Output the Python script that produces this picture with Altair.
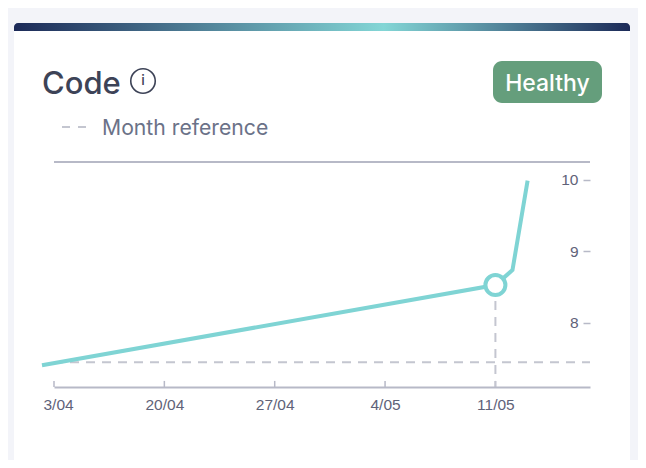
import altair as alt
import pandas as pd

# Chart values
line_dates = ["2023-04-12T05:42:00", "2023-05-11T00:00:00", "2023-05-12T02:00:00", "2023-05-13T01:00:00"]
line_values = [7.41, 8.53, 8.74, 9.99]
focus_date = ["2023-05-11T00:00:00"]
focus_value = [8.53]
month_reference = 7.45
y_ticks = [8, 9, 10]
x_tick_days = [(4, 13), (4, 20), (4, 27), (5, 4), (5, 11)]
title_text = "Code"
legend_text = "Month reference"
badge_text = "Healthy"

PAGE = "#f3f4f9"
TEAL = "#7fd4d4"
AXIS = "#b7b9c7"
DASH = "#c4c6d0"
LABEL = "#5f6379"
W, H = 536, 225
X0, Y0 = 54, 162  # page position of the plot's corner


def px(v):
    return alt.value(v - X0)


def py(v):
    return alt.value(v - Y0)


line_df = pd.DataFrame({"date": line_dates, "value": line_values})
focus_df = pd.DataFrame({"date": focus_date, "value": focus_value})
tick_df = pd.DataFrame({"date": [f"2023-{m:02d}-{d:02d}T00:00:00" for m, d in x_tick_days]})
one = pd.DataFrame({"k": [0]})

x_scale = alt.Scale(domain=[alt.DateTime(year=2023, month=4, date=13),
                            alt.DateTime(year=2023, month=5, date=17)], nice=False)
y_scale = alt.Scale(domain=[7.105, 10.25], nice=False, zero=False)
y_bottom, y_top = 7.105, 10.25

x_axis = alt.Axis(
    values=[alt.DateTime(year=2023, month=m, date=d) for m, d in x_tick_days],
    title=None, grid=False, ticks=False, domain=True, domainColor=AXIS, domainWidth=2,
    labelFont="Liberation Sans", labelFontSize=15.5, labelColor=LABEL, labelPadding=10,
    labelExpr="datum.index == 0 ? '3/04' : timeFormat(datum.value, '%-d/%m')",
    labelFlush=True, labelFlushOffset=11, labelOverlap=False, zindex=1,
)
y_axis = alt.Axis(
    orient="left", offset=-W, values=y_ticks, format="d", title=None, grid=False, domain=False,
    tickSize=7, tickColor=AXIS, tickWidth=1.5, labelPadding=5,
    labelFont="Liberation Sans", labelFontSize=15.5, labelColor=LABEL, zindex=1,
)

base = alt.Chart(one)

card = base.mark_rect(fill="white", cornerRadius=10).encode(
    x=px(14), x2=px(630), y=py(23), y2=py(520))
strip = base.mark_rect(
    cornerRadiusTopLeft=10, cornerRadiusTopRight=10,
    color=alt.Gradient(gradient="linear", x1=0, x2=1, y1=0, y2=0, stops=[
        alt.GradientStop(offset=0, color="#1c2a58"),
        alt.GradientStop(offset=0.6, color="#83d6d6"),
        alt.GradientStop(offset=1, color="#1c2a58"),
    ]),
).encode(x=px(14), x2=px(630), y=py(23), y2=py(31))

title = base.mark_text(align="left", baseline="alphabetic", font="Inter", fontSize=31,
                       fontWeight=500, color="#3d4357").encode(
    x=px(42), y=py(94), text=alt.value(title_text))
info_ring = base.mark_point(shape="circle", size=600, filled=False, stroke="#3d4357",
                            strokeWidth=1.6, opacity=1).encode(x=px(143), y=py(81))
info_i = base.mark_text(font="Inter", fontSize=14, fontWeight=500, color="#3d4357",
                        baseline="middle").encode(x=px(143), y=py(81), text=alt.value("i"))
legend_swatch = base.mark_rule(stroke=DASH, strokeWidth=2, strokeDash=[8, 8]).encode(
    x=px(62), x2=px(87), y=py(127))
legend_label = base.mark_text(align="left", baseline="alphabetic", font="Inter", fontSize=21.2,
                              color="#6b7288").encode(
    x=px(102), y=py(135), text=alt.value(legend_text))
badge = base.mark_rect(fill="#659e7c", cornerRadius=9).encode(
    x=px(493), x2=px(602), y=py(61), y2=py(103))
badge_label = base.mark_text(align="center", baseline="alphabetic", font="Inter", fontSize=23,
                             fontWeight=500, color="white").encode(
    x=px(547.5), y=py(91), text=alt.value(badge_text))

top_rule = base.mark_rule(stroke=AXIS, strokeWidth=2).encode(
    x=alt.value(0), x2=alt.value(W), y=alt.Y(datum=y_top, scale=y_scale, type="quantitative"))
ref_rule = base.mark_rule(stroke=DASH, strokeWidth=2, strokeDash=[9, 7]).encode(
    x=alt.value(0), x2=alt.value(W),
    y=alt.Y(datum=month_reference, scale=y_scale, type="quantitative"))
x_ticks = alt.Chart(tick_df).mark_rule(stroke=AXIS, strokeWidth=1.5).encode(
    x=alt.X("date:T", scale=x_scale),
    y=alt.Y(datum=y_bottom, scale=y_scale, type="quantitative"),
    y2=alt.Y2(datum=7.19))
drop = alt.Chart(focus_df).mark_rule(stroke=DASH, strokeWidth=2, strokeDash=[9, 7]).encode(
    x=alt.X("date:T", scale=x_scale),
    y=alt.Y("value:Q", scale=y_scale),
    y2=alt.Y2(datum=y_bottom))
line = alt.Chart(line_df).mark_line(stroke=TEAL, strokeWidth=4, clip=False).encode(
    x=alt.X("date:T", scale=x_scale, axis=x_axis),
    y=alt.Y("value:Q", scale=y_scale, axis=y_axis))
focus = alt.Chart(focus_df).mark_point(shape="circle", size=400, filled=True, fill="white",
                                       stroke=TEAL, strokeWidth=4, opacity=1).encode(
    x=alt.X("date:T", scale=x_scale),
    y=alt.Y("value:Q", scale=y_scale))

chart = alt.layer(
    card, strip, title, info_ring, info_i, legend_swatch, legend_label, badge, badge_label,
    top_rule, ref_rule, x_ticks, drop, line, focus,
).properties(
    width=W, height=H, background=PAGE,
    padding={"left": 46, "top": 154, "right": 48, "bottom": 73},
    autosize=alt.AutoSizeParams(type="none"),
).configure_view(stroke=None)

chart.save("out.html", embed_options={"renderer": "svg", "actions": False})
